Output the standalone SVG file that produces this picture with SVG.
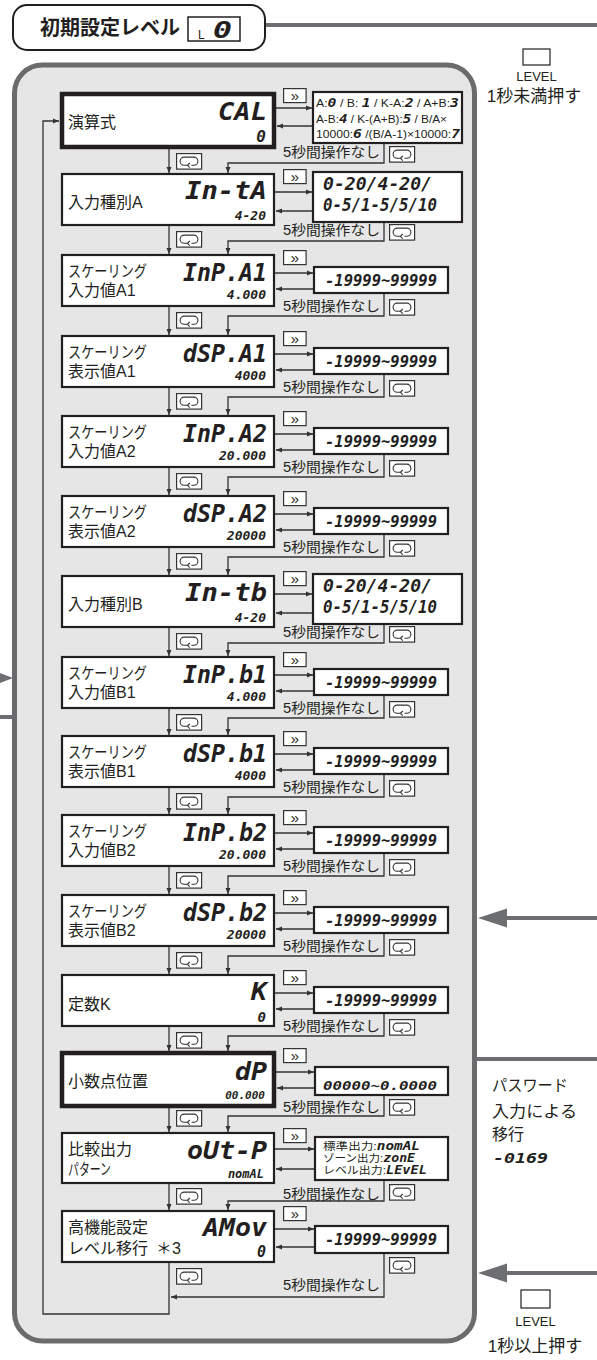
<svg xmlns="http://www.w3.org/2000/svg" width="597" height="1360" viewBox="0 0 597 1360">
<style>
.pnl{fill:#e6e6e7;stroke:#6b6b6d;stroke-width:5}
.box{fill:#fff;stroke:#231f20;stroke-width:2.2}
.tbox{fill:#fff;stroke:#231f20;stroke-width:4.5}
.obox{fill:#fff;stroke:#231f20;stroke-width:2.2}
.ln{fill:none;stroke:#333;stroke-width:1.3}
.gl{fill:none;stroke:#6d6e71;stroke-width:4}
.jp{font-family:"Liberation Sans","Noto Sans CJK JP",sans-serif;fill:#231f20}
.lb{font-size:16px}
.nt{font-size:14px}
.sg{font-family:"DejaVu Sans Mono",monospace;font-weight:bold;font-style:italic;fill:#231f20}
.cd{font-size:24px}
.vl{font-size:13px}
.v1{font-size:16px}
.rg{font-size:15px}
.la{font-family:"Liberation Sans",Arial,sans-serif;fill:#231f20}
</style>
<defs>
<marker id="ah" markerWidth="7" markerHeight="6" refX="6" refY="3" orient="auto" markerUnits="userSpaceOnUse"><path d="M0,0.5 L6,3 L0,5.5 Z" fill="#333"/></marker>
<g id="lp"><rect x="0.6" y="0.6" width="25" height="15.5" fill="#fff" stroke="#333" stroke-width="1.2"/><path d="M12.5,12.3 H8.2 A4.1,4.1 0 0 1 8.2,4.1 H17.8 A4.1,4.1 0 0 1 17.8,12.3 H15.5 M13.8,10 L11.4,12.3 L13.8,14.6" fill="none" stroke="#333" stroke-width="1.1"/></g>
<g id="ff"><rect x="0.6" y="0.6" width="22.5" height="14" fill="#fff" stroke="#333" stroke-width="1.2"/><text x="11.8" y="12.5" text-anchor="middle" class="la" font-size="15">»</text></g>
</defs>

<rect class="pnl" x="14.5" y="65" width="460" height="1276" rx="28"/>

<g id="title">
<rect x="13" y="5" width="252" height="45" rx="14" fill="#fff" stroke="#231f20" stroke-width="2"/>
<text x="40" y="35" class="jp" font-size="20" font-weight="bold">初期設定レベル</text>
<rect x="188" y="17" width="52" height="24" fill="#fff" stroke="#231f20" stroke-width="1.5"/>
<text x="198" y="39" class="la" font-size="12">L</text>
<text x="213" y="38" class="sg" font-size="23" textLength="19" lengthAdjust="spacingAndGlyphs">0</text>
</g>

<g id="ext-connectors">
<line class="gl" x1="266" y1="25" x2="597" y2="25"/>
<line class="gl" x1="503" y1="918" x2="597" y2="918"/>
<path d="M478,918 L507,908.5 L507,927.5 Z" fill="#6d6e71"/>
<line class="gl" x1="477" y1="1059" x2="597" y2="1059"/>
<line class="gl" x1="503" y1="1273" x2="597" y2="1273"/>
<path d="M478,1273 L507,1263.5 L507,1282.5 Z" fill="#6d6e71"/>
<path d="M0,673 L13,678 L0,683 Z" fill="#6d6e71"/>
<line class="gl" x1="0" y1="717" x2="13" y2="717"/>
</g>

<g id="key-top">
<rect x="523" y="49" width="27" height="16" fill="#fff" stroke="#231f20" stroke-width="1.2"/>
<text x="536.5" y="81" text-anchor="middle" class="la" font-size="13">LEVEL</text>
<text x="534" y="102" text-anchor="middle" class="jp" font-size="17">1秒未満押す</text>
</g>
<g id="key-bottom">
<rect x="521" y="1290" width="29" height="18" fill="#fff" stroke="#231f20" stroke-width="1.2"/>
<text x="535.5" y="1326" text-anchor="middle" class="la" font-size="13">LEVEL</text>
<text x="535" y="1352" text-anchor="middle" class="jp" font-size="17">1秒以上押す</text>
</g>
<g id="password">
<text x="492" y="1091" class="jp" font-size="16" textLength="76" lengthAdjust="spacingAndGlyphs">パスワード</text>
<text x="492" y="1117" class="jp" font-size="16" textLength="85" lengthAdjust="spacingAndGlyphs">入力による</text>
<text x="492" y="1140" class="jp" font-size="16">移行</text>
<text x="493" y="1163" class="sg" font-size="14" textLength="55" lengthAdjust="spacingAndGlyphs">-0169</text>
</g>

<g id="connectors">
<path class="ln" d="M275,108 H312" marker-end="url(#ah)"/>
<path class="ln" d="M313,126 H277" marker-end="url(#ah)"/>
<path class="ln" d="M384,143 V163 H228 V173" marker-end="url(#ah)"/>
<path class="ln" d="M169,147 V173" marker-end="url(#ah)"/>

<path class="ln" d="M275,192 H312" marker-end="url(#ah)"/>
<path class="ln" d="M313,211 H276" marker-end="url(#ah)"/>
<path class="ln" d="M384,222 V241 H228 V254" marker-end="url(#ah)"/>
<path class="ln" d="M169,225 V254" marker-end="url(#ah)"/>

<path class="ln" d="M275,273 H313" marker-end="url(#ah)"/>
<path class="ln" d="M314,289 H276" marker-end="url(#ah)"/>
<path class="ln" d="M384,293 V316 H228 V335" marker-end="url(#ah)"/>
<path class="ln" d="M169,306 V335" marker-end="url(#ah)"/>

<path class="ln" d="M275,354 H313" marker-end="url(#ah)"/>
<path class="ln" d="M314,370 H276" marker-end="url(#ah)"/>
<path class="ln" d="M384,374 V397 H228 V415" marker-end="url(#ah)"/>
<path class="ln" d="M169,387 V415" marker-end="url(#ah)"/>

<path class="ln" d="M275,434 H313" marker-end="url(#ah)"/>
<path class="ln" d="M314,450 H276" marker-end="url(#ah)"/>
<path class="ln" d="M384,454 V477 H228 V495" marker-end="url(#ah)"/>
<path class="ln" d="M169,467 V495" marker-end="url(#ah)"/>

<path class="ln" d="M275,514 H313" marker-end="url(#ah)"/>
<path class="ln" d="M314,530 H276" marker-end="url(#ah)"/>
<path class="ln" d="M384,534 V557 H228 V575" marker-end="url(#ah)"/>
<path class="ln" d="M169,547 V575" marker-end="url(#ah)"/>

<path class="ln" d="M275,594 H312" marker-end="url(#ah)"/>
<path class="ln" d="M313,613 H276" marker-end="url(#ah)"/>
<path class="ln" d="M384,624 V643 H228 V656" marker-end="url(#ah)"/>
<path class="ln" d="M169,627 V656" marker-end="url(#ah)"/>

<path class="ln" d="M275,675 H313" marker-end="url(#ah)"/>
<path class="ln" d="M314,691 H276" marker-end="url(#ah)"/>
<path class="ln" d="M384,695 V718 H228 V735" marker-end="url(#ah)"/>
<path class="ln" d="M169,708 V735" marker-end="url(#ah)"/>

<path class="ln" d="M275,754 H313" marker-end="url(#ah)"/>
<path class="ln" d="M314,770 H276" marker-end="url(#ah)"/>
<path class="ln" d="M384,774 V797 H228 V814" marker-end="url(#ah)"/>
<path class="ln" d="M169,787 V814" marker-end="url(#ah)"/>

<path class="ln" d="M275,833 H313" marker-end="url(#ah)"/>
<path class="ln" d="M314,849 H276" marker-end="url(#ah)"/>
<path class="ln" d="M384,853 V876 H228 V894" marker-end="url(#ah)"/>
<path class="ln" d="M169,866 V894" marker-end="url(#ah)"/>

<path class="ln" d="M275,913 H313" marker-end="url(#ah)"/>
<path class="ln" d="M314,929 H276" marker-end="url(#ah)"/>
<path class="ln" d="M384,933 V956 H228 V974" marker-end="url(#ah)"/>
<path class="ln" d="M169,946 V974" marker-end="url(#ah)"/>

<path class="ln" d="M275,993 H313" marker-end="url(#ah)"/>
<path class="ln" d="M314,1009 H276" marker-end="url(#ah)"/>
<path class="ln" d="M384,1013 V1036 H228 V1051" marker-end="url(#ah)"/>
<path class="ln" d="M169,1026 V1051" marker-end="url(#ah)"/>

<path class="ln" d="M276,1072 H314" marker-end="url(#ah)"/>
<path class="ln" d="M315,1088 H277" marker-end="url(#ah)"/>
<path class="ln" d="M384,1095 V1116 H228 V1132" marker-end="url(#ah)"/>
<path class="ln" d="M169,1106 V1132" marker-end="url(#ah)"/>

<path class="ln" d="M275,1149 H314" marker-end="url(#ah)"/>
<path class="ln" d="M315,1169 H276" marker-end="url(#ah)"/>
<path class="ln" d="M384,1180 V1201 H228 V1210" marker-end="url(#ah)"/>
<path class="ln" d="M169,1183 V1210" marker-end="url(#ah)"/>

<path class="ln" d="M275,1229 H314" marker-end="url(#ah)"/>
<path class="ln" d="M315,1247 H276" marker-end="url(#ah)"/>
<path class="ln" d="M384,1253 V1297 H171" marker-end="url(#ah)"/>
<path class="ln" d="M169,1262 V1314 H43 V121 H59" marker-end="url(#ah)"/>
</g>

<g id="buttons">
<use href="#ff" x="283" y="88"/><use href="#lp" x="389" y="146"/><use href="#lp" x="176" y="153"/>
<use href="#ff" x="283" y="169"/><use href="#lp" x="389" y="224"/><use href="#lp" x="176" y="231"/>
<use href="#ff" x="283" y="250"/><use href="#lp" x="389" y="299"/><use href="#lp" x="176" y="312"/>
<use href="#ff" x="283" y="331"/><use href="#lp" x="389" y="380"/><use href="#lp" x="176" y="393"/>
<use href="#ff" x="283" y="411"/><use href="#lp" x="389" y="460"/><use href="#lp" x="176" y="473"/>
<use href="#ff" x="283" y="491"/><use href="#lp" x="389" y="540"/><use href="#lp" x="176" y="553"/>
<use href="#ff" x="283" y="571"/><use href="#lp" x="389" y="626"/><use href="#lp" x="176" y="633"/>
<use href="#ff" x="283" y="652"/><use href="#lp" x="389" y="701"/><use href="#lp" x="176" y="714"/>
<use href="#ff" x="283" y="731"/><use href="#lp" x="389" y="780"/><use href="#lp" x="176" y="793"/>
<use href="#ff" x="283" y="810"/><use href="#lp" x="389" y="859"/><use href="#lp" x="176" y="872"/>
<use href="#ff" x="283" y="890"/><use href="#lp" x="389" y="939"/><use href="#lp" x="176" y="952"/>
<use href="#ff" x="283" y="970"/><use href="#lp" x="389" y="1019"/><use href="#lp" x="176" y="1032"/>
<use href="#ff" x="283" y="1048"/><use href="#lp" x="389" y="1099"/><use href="#lp" x="176" y="1110"/>
<use href="#ff" x="283" y="1128"/><use href="#lp" x="389" y="1184"/><use href="#lp" x="176" y="1188"/>
<use href="#ff" x="283" y="1206"/><use href="#lp" x="389" y="1257"/><use href="#lp" x="176" y="1268"/>
</g>

<g id="timeout-labels" class="jp nt">
<text x="283" y="157" textLength="97" lengthAdjust="spacingAndGlyphs">5秒間操作なし</text>
<text x="283" y="235" textLength="97" lengthAdjust="spacingAndGlyphs">5秒間操作なし</text>
<text x="283" y="311" textLength="97" lengthAdjust="spacingAndGlyphs">5秒間操作なし</text>
<text x="283" y="392" textLength="97" lengthAdjust="spacingAndGlyphs">5秒間操作なし</text>
<text x="283" y="472" textLength="97" lengthAdjust="spacingAndGlyphs">5秒間操作なし</text>
<text x="283" y="552" textLength="97" lengthAdjust="spacingAndGlyphs">5秒間操作なし</text>
<text x="283" y="637" textLength="97" lengthAdjust="spacingAndGlyphs">5秒間操作なし</text>
<text x="283" y="713" textLength="97" lengthAdjust="spacingAndGlyphs">5秒間操作なし</text>
<text x="283" y="792" textLength="97" lengthAdjust="spacingAndGlyphs">5秒間操作なし</text>
<text x="283" y="871" textLength="97" lengthAdjust="spacingAndGlyphs">5秒間操作なし</text>
<text x="283" y="951" textLength="97" lengthAdjust="spacingAndGlyphs">5秒間操作なし</text>
<text x="283" y="1031" textLength="97" lengthAdjust="spacingAndGlyphs">5秒間操作なし</text>
<text x="283" y="1112" textLength="97" lengthAdjust="spacingAndGlyphs">5秒間操作なし</text>
<text x="283" y="1199" textLength="97" lengthAdjust="spacingAndGlyphs">5秒間操作なし</text>
<text x="283" y="1290" textLength="97" lengthAdjust="spacingAndGlyphs">5秒間操作なし</text>
</g>

<g id="n-cal">
<rect class="tbox" x="62" y="94" width="212" height="53"/>
<text x="68" y="128" class="jp lb">演算式</text>
<text x="218" y="120" class="sg cd" textLength="49" lengthAdjust="spacingAndGlyphs">CAL</text>
<text x="266" y="142" class="sg v1" text-anchor="end">0</text>
</g>
<g id="o-cal">
<rect class="obox" x="313" y="92" width="149" height="51"/>
<text x="316" y="107" class="la" font-size="10" textLength="143" lengthAdjust="spacingAndGlyphs">A:<tspan class="sg" font-size="12">0</tspan> / B: <tspan class="sg" font-size="12">1</tspan> / K-A:<tspan class="sg" font-size="12">2</tspan> / A+B:<tspan class="sg" font-size="12">3</tspan></text>
<text x="316" y="122.5" class="la" font-size="10" textLength="131" lengthAdjust="spacingAndGlyphs">A-B:<tspan class="sg" font-size="12">4</tspan> / K-(A+B):<tspan class="sg" font-size="12">5</tspan> / B/A×</text>
<text x="316" y="138" class="la" font-size="10" textLength="144" lengthAdjust="spacingAndGlyphs">10000:<tspan class="sg" font-size="12">6</tspan> /(B/A-1)×10000:<tspan class="sg" font-size="12">7</tspan></text>
</g>

<g id="n-inta">
<rect class="box" x="62" y="174" width="212" height="51"/>
<text x="68" y="208" class="jp lb">入力種別A</text>
<text x="185" y="199" class="sg cd" textLength="82" lengthAdjust="spacingAndGlyphs">In-tA</text>
<text x="266" y="220" class="sg vl" text-anchor="end">4-20</text>
</g>
<g id="o-inta">
<rect class="obox" x="313" y="172" width="149" height="50"/>
<text x="323" y="190" class="sg" font-size="17" textLength="109" lengthAdjust="spacingAndGlyphs">0-20/4-20/</text>
<text x="323" y="211" class="sg" font-size="17" textLength="114" lengthAdjust="spacingAndGlyphs">0-5/1-5/5/10</text>
</g>

<g id="n-inpa1">
<rect class="box" x="62" y="255" width="212" height="51"/>
<text x="68" y="277" class="jp lb" textLength="79" lengthAdjust="spacingAndGlyphs">スケーリング</text>
<text x="68" y="296" class="jp lb">入力値A1</text>
<text x="183" y="281" class="sg cd" textLength="84" lengthAdjust="spacingAndGlyphs">InP.A1</text>
<text x="266" y="299" class="sg vl" text-anchor="end">4.000</text>
</g>
<g id="o-inpa1"><rect class="obox" x="314" y="267" width="134" height="26"/><text x="325" y="285.5" class="sg rg" textLength="112" lengthAdjust="spacingAndGlyphs">-19999~99999</text></g>

<g id="n-dspa1">
<rect class="box" x="62" y="336" width="212" height="51"/>
<text x="68" y="358" class="jp lb" textLength="79" lengthAdjust="spacingAndGlyphs">スケーリング</text>
<text x="68" y="377" class="jp lb">表示値A1</text>
<text x="183" y="362" class="sg cd" textLength="84" lengthAdjust="spacingAndGlyphs">dSP.A1</text>
<text x="266" y="380" class="sg vl" text-anchor="end">4000</text>
</g>
<g id="o-dspa1"><rect class="obox" x="314" y="348" width="134" height="26"/><text x="325" y="366.5" class="sg rg" textLength="112" lengthAdjust="spacingAndGlyphs">-19999~99999</text></g>

<g id="n-inpa2">
<rect class="box" x="62" y="416" width="212" height="51"/>
<text x="68" y="438" class="jp lb" textLength="79" lengthAdjust="spacingAndGlyphs">スケーリング</text>
<text x="68" y="457" class="jp lb">入力値A2</text>
<text x="183" y="442" class="sg cd" textLength="84" lengthAdjust="spacingAndGlyphs">InP.A2</text>
<text x="266" y="460" class="sg vl" text-anchor="end">20.000</text>
</g>
<g id="o-inpa2"><rect class="obox" x="314" y="428" width="134" height="26"/><text x="325" y="446.5" class="sg rg" textLength="112" lengthAdjust="spacingAndGlyphs">-19999~99999</text></g>

<g id="n-dspa2">
<rect class="box" x="62" y="496" width="212" height="51"/>
<text x="68" y="518" class="jp lb" textLength="79" lengthAdjust="spacingAndGlyphs">スケーリング</text>
<text x="68" y="537" class="jp lb">表示値A2</text>
<text x="183" y="522" class="sg cd" textLength="84" lengthAdjust="spacingAndGlyphs">dSP.A2</text>
<text x="266" y="540" class="sg vl" text-anchor="end">20000</text>
</g>
<g id="o-dspa2"><rect class="obox" x="314" y="508" width="134" height="26"/><text x="325" y="526.5" class="sg rg" textLength="112" lengthAdjust="spacingAndGlyphs">-19999~99999</text></g>

<g id="n-intb">
<rect class="box" x="62" y="576" width="212" height="51"/>
<text x="68" y="610" class="jp lb">入力種別B</text>
<text x="185" y="601" class="sg cd" textLength="82" lengthAdjust="spacingAndGlyphs">In-tb</text>
<text x="266" y="622" class="sg vl" text-anchor="end">4-20</text>
</g>
<g id="o-intb">
<rect class="obox" x="313" y="574" width="149" height="50"/>
<text x="323" y="592" class="sg" font-size="17" textLength="109" lengthAdjust="spacingAndGlyphs">0-20/4-20/</text>
<text x="323" y="613" class="sg" font-size="17" textLength="114" lengthAdjust="spacingAndGlyphs">0-5/1-5/5/10</text>
</g>

<g id="n-inpb1">
<rect class="box" x="62" y="657" width="212" height="51"/>
<text x="68" y="679" class="jp lb" textLength="79" lengthAdjust="spacingAndGlyphs">スケーリング</text>
<text x="68" y="698" class="jp lb">入力値B1</text>
<text x="183" y="683" class="sg cd" textLength="84" lengthAdjust="spacingAndGlyphs">InP.b1</text>
<text x="266" y="701" class="sg vl" text-anchor="end">4.000</text>
</g>
<g id="o-inpb1"><rect class="obox" x="314" y="669" width="134" height="26"/><text x="325" y="687.5" class="sg rg" textLength="112" lengthAdjust="spacingAndGlyphs">-19999~99999</text></g>

<g id="n-dspb1">
<rect class="box" x="62" y="736" width="212" height="51"/>
<text x="68" y="758" class="jp lb" textLength="79" lengthAdjust="spacingAndGlyphs">スケーリング</text>
<text x="68" y="777" class="jp lb">表示値B1</text>
<text x="183" y="762" class="sg cd" textLength="84" lengthAdjust="spacingAndGlyphs">dSP.b1</text>
<text x="266" y="780" class="sg vl" text-anchor="end">4000</text>
</g>
<g id="o-dspb1"><rect class="obox" x="314" y="748" width="134" height="26"/><text x="325" y="766.5" class="sg rg" textLength="112" lengthAdjust="spacingAndGlyphs">-19999~99999</text></g>

<g id="n-inpb2">
<rect class="box" x="62" y="815" width="212" height="51"/>
<text x="68" y="837" class="jp lb" textLength="79" lengthAdjust="spacingAndGlyphs">スケーリング</text>
<text x="68" y="856" class="jp lb">入力値B2</text>
<text x="183" y="841" class="sg cd" textLength="84" lengthAdjust="spacingAndGlyphs">InP.b2</text>
<text x="266" y="859" class="sg vl" text-anchor="end">20.000</text>
</g>
<g id="o-inpb2"><rect class="obox" x="314" y="827" width="134" height="26"/><text x="325" y="845.5" class="sg rg" textLength="112" lengthAdjust="spacingAndGlyphs">-19999~99999</text></g>

<g id="n-dspb2">
<rect class="box" x="62" y="895" width="212" height="51"/>
<text x="68" y="917" class="jp lb" textLength="79" lengthAdjust="spacingAndGlyphs">スケーリング</text>
<text x="68" y="936" class="jp lb">表示値B2</text>
<text x="183" y="921" class="sg cd" textLength="84" lengthAdjust="spacingAndGlyphs">dSP.b2</text>
<text x="266" y="939" class="sg vl" text-anchor="end">20000</text>
</g>
<g id="o-dspb2"><rect class="obox" x="314" y="907" width="134" height="26"/><text x="325" y="925.5" class="sg rg" textLength="112" lengthAdjust="spacingAndGlyphs">-19999~99999</text></g>

<g id="n-k">
<rect class="box" x="62" y="975" width="212" height="51"/>
<text x="68" y="1010" class="jp lb">定数K</text>
<text x="251" y="1000" class="sg cd" textLength="16" lengthAdjust="spacingAndGlyphs">K</text>
<text x="266" y="1022" class="sg" font-size="14" text-anchor="end">0</text>
</g>
<g id="o-k"><rect class="obox" x="314" y="987" width="134" height="26"/><text x="325" y="1005.5" class="sg rg" textLength="112" lengthAdjust="spacingAndGlyphs">-19999~99999</text></g>

<g id="n-dp">
<rect class="tbox" x="62" y="1053" width="212" height="53"/>
<text x="68" y="1087" class="jp lb">小数点位置</text>
<text x="235" y="1080" class="sg cd" textLength="32" lengthAdjust="spacingAndGlyphs">dP</text>
<text x="265" y="1099" class="sg" font-size="11" text-anchor="end">00.000</text>
</g>
<g id="o-dp"><rect class="obox" x="315" y="1067" width="133" height="28"/><text x="323" y="1090" class="sg" font-size="12" textLength="114" lengthAdjust="spacingAndGlyphs">00000~0.0000</text></g>

<g id="n-outp">
<rect class="box" x="62" y="1133" width="212" height="50"/>
<text x="68" y="1155" class="jp lb">比較出力</text>
<text x="68" y="1175" class="jp lb" textLength="43" lengthAdjust="spacingAndGlyphs">パターン</text>
<text x="187" y="1159" class="sg cd" textLength="80" lengthAdjust="spacingAndGlyphs">oUt-P</text>
<text x="264" y="1178" class="sg" font-size="12" text-anchor="end">nomAL</text>
</g>
<g id="o-outp">
<rect class="obox" x="315" y="1137" width="133" height="43"/>
<text x="323" y="1150" class="jp" font-size="10.5" textLength="97" lengthAdjust="spacingAndGlyphs">標準出力:<tspan class="sg" font-size="12">nomAL</tspan></text>
<text x="323" y="1162" class="jp" font-size="10.5" textLength="92" lengthAdjust="spacingAndGlyphs">ゾーン出力:<tspan class="sg" font-size="12">zonE</tspan></text>
<text x="323" y="1174" class="jp" font-size="10.5" textLength="104" lengthAdjust="spacingAndGlyphs">レベル出力:<tspan class="sg" font-size="12">LEvEL</tspan></text>
</g>

<g id="n-amov">
<rect class="box" x="62" y="1211" width="212" height="51"/>
<text x="68" y="1233" class="jp lb">高機能設定</text>
<text x="68" y="1254" class="jp lb">レベル移行 <tspan x="156">＊3</tspan></text>
<text x="203" y="1236" class="sg cd" textLength="64" lengthAdjust="spacingAndGlyphs">AMov</text>
<text x="266" y="1257" class="sg" font-size="15" text-anchor="end">0</text>
</g>
<g id="o-amov"><rect class="obox" x="315" y="1226" width="133" height="27"/><text x="325" y="1245" class="sg rg" textLength="112" lengthAdjust="spacingAndGlyphs">-19999~99999</text></g>
</svg>
